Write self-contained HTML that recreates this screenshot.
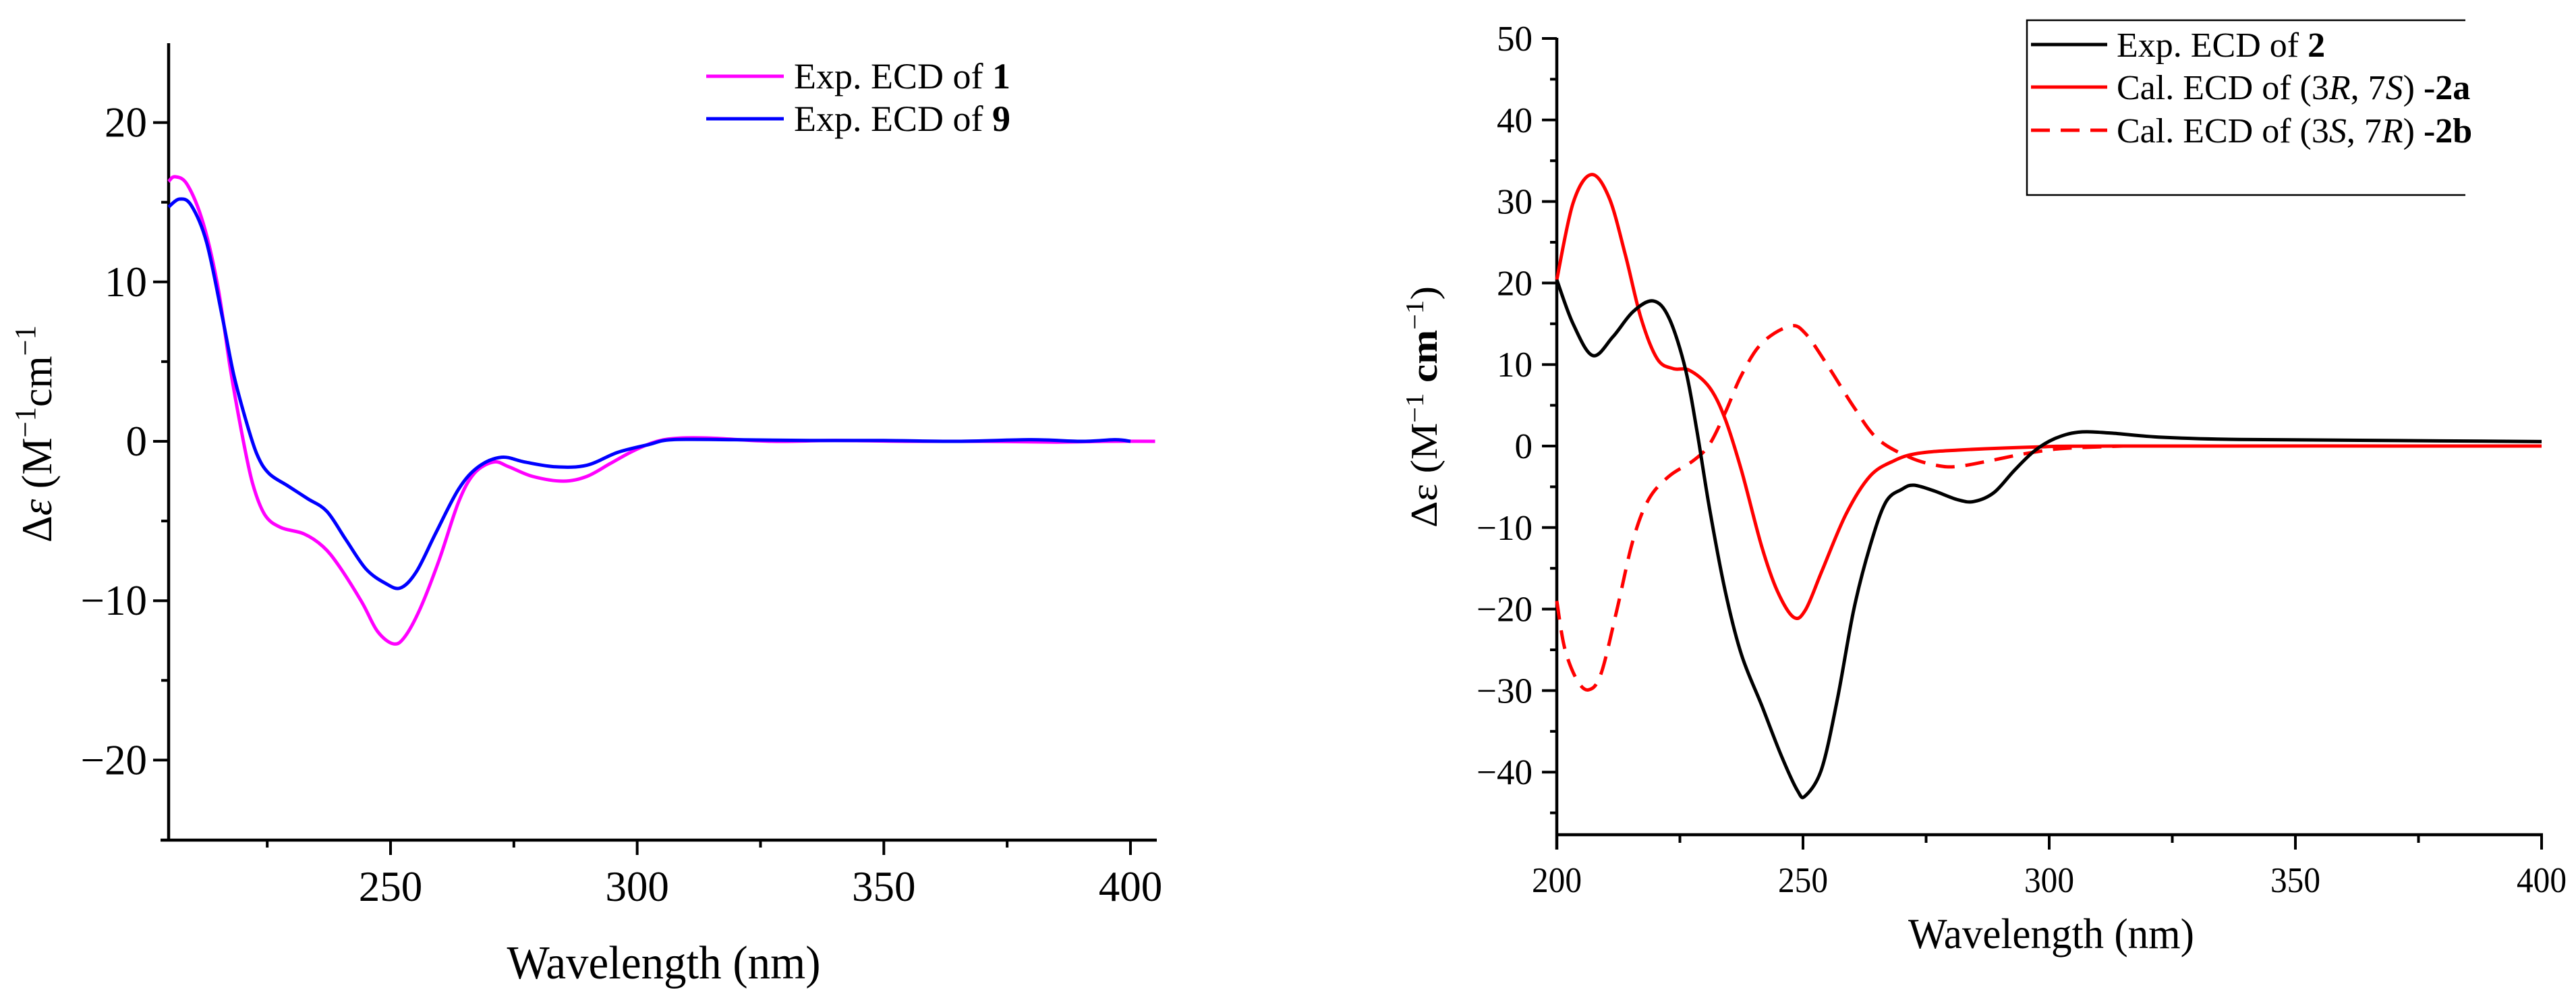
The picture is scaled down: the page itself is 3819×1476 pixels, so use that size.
<!DOCTYPE html>
<html><head><meta charset="utf-8"><style>
html,body{margin:0;padding:0;background:#fff;}
svg{display:block;font-family:"Liberation Serif",serif;}
</style></head><body>
<svg id="fig" width="3819" height="1476" viewBox="0 0 3819 1476" xmlns="http://www.w3.org/2000/svg">
<g id="left"></g>
<g id="right"></g>
</svg>
<script>
// ---- Left chart data ----
const wlL1 = [205,206.3,208.8,212,215,217.5,219.8,222,224.5,227.7,232.4,236.3,239.5,244.2,247.3,250.5,252.8,256,259.9,263.8,267,270.9,274,278.8,285,289.8,294.5,299.2,304,308.6,315,327.5,340,355,370,385,395,405];
const ecd1 = [16.3,16.6,16.1,13.7,9.7,4.6,0.6,-2.6,-4.6,-5.4,-5.8,-6.6,-7.8,-10.1,-11.9,-12.7,-12.3,-10.5,-7.4,-3.8,-2.0,-1.3,-1.6,-2.2,-2.5,-2.2,-1.4,-0.6,0,0.2,0.2,0,0.05,0,0,-0.05,0,0];
const wlL9 = [205,207.2,209.6,212.7,215.9,218.2,220.6,222.9,225.3,229.2,233.2,237.1,241,245,248.9,252,255.2,259.1,263.8,267.8,272.5,277.2,283.5,289.8,296,302.4,307.1,319.7,335,350,365,380,390,397,400];
const ecd9 = [14.7,15.2,14.8,12.5,7.8,4.2,1.4,-0.8,-2.0,-2.8,-3.6,-4.4,-6.2,-8.0,-8.9,-9.2,-8.2,-5.8,-3.0,-1.6,-1.0,-1.3,-1.6,-1.5,-0.7,-0.2,0.1,0.1,0.05,0.05,0,0.1,0,0.1,0];
const yTicksL = [-20,-10,0,10,20];
const xTicksL = [250,300,350,400];
// ---- Right chart data ----
const wlR2 = [200,203.3,207.3,211.4,215.5,219.6,222.8,226.1,228.5,231,234.2,237.5,241.6,245.6,248.9,250.5,253.8,257,260.3,263.6,266.8,270.1,272.5,276.6,281.5,284.8,288.8,292.9,297,301.1,305.9,312.5,322.2,338.5,363,400];
const ecd2 = [20.4,15,11.1,13.4,16.5,17.8,15.7,9.5,1.7,-7.6,-17.8,-25.6,-31.8,-38,-42.3,-42.9,-39.6,-31,-20.1,-12.3,-6.9,-5.3,-4.8,-5.5,-6.6,-6.8,-5.7,-3,-0.6,0.9,1.7,1.6,1.1,0.8,0.7,0.55];
const wlR2a = [200,203.3,207,210.6,213.9,217.1,220.4,223.6,226.9,231,234.2,237.5,241.6,244.8,248.1,250.5,253.8,258.7,263.6,268.5,273.3,281.5,297.8,314,400];
const ecd2a = [20.4,29.8,33.3,30.5,23.5,15.7,10.7,9.5,9.3,7.2,3.3,-3,-12.3,-17.8,-21,-20.1,-15.4,-8.4,-3.7,-1.8,-0.9,-0.5,-0.1,0,0];
const wlR2b = [200,201.6,204.1,206.5,209,212.2,215.5,218.7,222.8,227.7,231,234.2,237.5,241.6,247.3,250.5,255.4,260.3,265.1,271.7,277.4,281.5,288,294.5,301,306,315];
const ecd2b = [-19,-24.8,-28.7,-29.9,-27.9,-20.1,-11.5,-6.5,-3.7,-1.8,0.2,4.1,8.7,12.6,14.7,13.8,9.5,4.8,0.9,-1.4,-2.4,-2.5,-1.8,-1,-0.4,-0.2,0];
const yTicksR = [-40,-30,-20,-10,0,10,20,30,40,50];
const xTicksR = [200,250,300,350,400];

const NS = "http://www.w3.org/2000/svg";
function mk(parent, tag, attrs){const e=document.createElementNS(NS,tag);for(const k in attrs)e.setAttribute(k,attrs[k]);parent.appendChild(e);return e;}
function smooth(pts){let d="M"+pts[0][0].toFixed(1)+","+pts[0][1].toFixed(1);
 for(let i=0;i<pts.length-1;i++){const p0=pts[i-1]||pts[i],p1=pts[i],p2=pts[i+1],p3=pts[i+2]||p2;
  const c1x=p1[0]+(p2[0]-p0[0])/6,c1y=p1[1]+(p2[1]-p0[1])/6,c2x=p2[0]-(p3[0]-p1[0])/6,c2y=p2[1]-(p3[1]-p1[1])/6;
  d+=" C"+c1x.toFixed(1)+","+c1y.toFixed(1)+" "+c2x.toFixed(1)+","+c2y.toFixed(1)+" "+p2[0].toFixed(1)+","+p2[1].toFixed(1);}
 return d;}
const minus = v => v<0 ? "\u2212"+Math.abs(v) : ""+v;

// ===== Left chart =====
(function(){
 const g=document.getElementById('left');
 const xL=v=>579+(v-250)*7.313, yL=v=>654-v*23.62;
 const ax=250, top=64, bot=1245, right=1715;
 let e;
 e=mk(g,'line',{x1:ax,y1:top,x2:ax,y2:bot+2,stroke:'#000','stroke-width':4.5});
 
 
 e=mk(g,'line',{x1:238,y1:bot,x2:right,y2:bot,stroke:'#000','stroke-width':4.5});
 
 
 for(let v=-25;v<=25;v+=5){const major=yTicksL.includes(v);if(v===25||v===-25)continue;
  e=mk(g,'line',{x1:ax-(major?23:11),y1:yL(v),x2:ax,y2:yL(v),stroke:'#000','stroke-width':4});
  
  }
 yTicksL.forEach(v=>{e=mk(g,'text',{x:218,y:yL(v)+21,'text-anchor':'end','font-size':63});e.textContent=minus(v);
  
  });
 for(let v=225;v<=400;v+=25){const major=xTicksL.includes(v);
  e=mk(g,'line',{x1:xL(v),y1:bot,x2:xL(v),y2:bot+(major?22:11),stroke:'#000','stroke-width':4});
  
  }
 xTicksL.forEach(v=>{e=mk(g,'text',{x:xL(v),y:1335,'text-anchor':'middle','font-size':63});e.textContent=v;
  
  });
 e=mk(g,'text',{x:984,y:1450,'text-anchor':'middle','font-size':70,textLength:465,lengthAdjust:'spacingAndGlyphs'});e.textContent='Wavelength (nm)';
 
 
 e=mk(g,'text',{x:0,y:0,'text-anchor':'middle','font-size':64,transform:'translate(76,643) rotate(-90)',textLength:322,lengthAdjust:'spacingAndGlyphs'});
 e.innerHTML='Δ<tspan font-style="italic">ε</tspan> (M<tspan dy="-24" font-size="44">−1</tspan><tspan dy="24">cm</tspan><tspan dy="-24" font-size="44">−1</tspan>';
 
 
 e=mk(g,'path',{d:smooth(wlL1.map((w,i)=>[xL(w),yL(ecd1[i])])),fill:'none',stroke:'#ff00ff','stroke-width':5});
 
 
 e=mk(g,'path',{d:smooth(wlL9.map((w,i)=>[xL(w),yL(ecd9[i])])),fill:'none',stroke:'#0000ff','stroke-width':5});
 
 
 const leg=[['#ff00ff','1',113],['#0000ff','9',176]];
 leg.forEach(([c,n,y])=>{
  e=mk(g,'line',{x1:1047,y1:y,x2:1162,y2:y,stroke:c,'stroke-width':5});
  
  
  e=mk(g,'text',{x:1177,y:y+18,'font-size':54});
  e.innerHTML='Exp. ECD of  <tspan font-weight="bold">'+n+'</tspan>';
  
  });
})();

// ===== Right chart =====
(function(){
 const g=document.getElementById('right');
 const xR=v=>2308+(v-200)*7.3, yR=v=>661-v*12.08;
 const ax=2308, top=56, bot=1237;
 let e;
 e=mk(g,'line',{x1:ax,y1:top,x2:ax,y2:bot+22,stroke:'#000','stroke-width':4.5});
 
 
 e=mk(g,'line',{x1:ax,y1:bot,x2:3770,y2:bot,stroke:'#000','stroke-width':4.5});
 
 
 for(let v=-45;v<=50;v+=5){const major=yTicksR.includes(v);
  e=mk(g,'line',{x1:ax-(major?22:10),y1:yR(v),x2:ax,y2:yR(v),stroke:'#000','stroke-width':4});
  
  }
 yTicksR.forEach(v=>{e=mk(g,'text',{x:2272,y:yR(v)+18,'text-anchor':'end','font-size':53});e.textContent=minus(v);
  
  });
 for(let v=200;v<=400;v+=25){const major=xTicksR.includes(v);
  e=mk(g,'line',{x1:xR(v),y1:bot,x2:xR(v),y2:bot+(major?22:12),stroke:'#000','stroke-width':4});
  
  }
 xTicksR.forEach(v=>{e=mk(g,'text',{x:xR(v),y:1322,'text-anchor':'middle','font-size':53,textLength:74,lengthAdjust:'spacingAndGlyphs'});e.textContent=v;
  
  });
 e=mk(g,'text',{x:3041,y:1405,'text-anchor':'middle','font-size':64,textLength:424,lengthAdjust:'spacingAndGlyphs'});e.textContent='Wavelength (nm)';
 
 
 e=mk(g,'text',{x:0,y:0,'text-anchor':'middle','font-size':56,transform:'translate(2130,603) rotate(-90)',textLength:358,lengthAdjust:'spacingAndGlyphs'});
 e.innerHTML='Δε (M<tspan dy="-20" font-size="38">−1</tspan><tspan dy="20" font-weight="bold"> cm</tspan><tspan dy="-20" font-size="38">−1</tspan><tspan dy="20">)</tspan>';
 
 
 e=mk(g,'path',{d:smooth(wlR2b.map((w,i)=>[xR(w),yR(ecd2b[i])])),fill:'none',stroke:'#ff0000','stroke-width':5,'stroke-dasharray':'28,16'});
 
 
 e=mk(g,'path',{d:smooth(wlR2a.map((w,i)=>[xR(w),yR(ecd2a[i])])),fill:'none',stroke:'#ff0000','stroke-width':5});
 
 
 e=mk(g,'path',{d:smooth(wlR2.map((w,i)=>[xR(w),yR(ecd2[i])])),fill:'none',stroke:'#000','stroke-width':5});
 
 
 e=mk(g,'path',{d:'M3655,30 L3005,30 L3005,289 L3655,289',fill:'none',stroke:'#000','stroke-width':2.5});
 
 
 const leg=[['#000','',66,'Exp. ECD of  <tspan font-weight="bold">2</tspan>'],
  ['#ff0000','',129,'Cal. ECD of (3<tspan font-style="italic">R</tspan>, 7<tspan font-style="italic">S</tspan>) <tspan font-weight="bold">-2a</tspan>'],
  ['#ff0000','28,16',193,'Cal. ECD of (3<tspan font-style="italic">S</tspan>, 7<tspan font-style="italic">R</tspan>) <tspan font-weight="bold">-2b</tspan>']];
 leg.forEach(([c,da,y,t])=>{
  const a={x1:3011,y1:y,x2:3124,y2:y,stroke:c,'stroke-width':5};if(da)a['stroke-dasharray']=da;
  e=mk(g,'line',a);
  
  
  e=mk(g,'text',{x:3138,y:y+18,'font-size':52});
  e.innerHTML=t;
  
  });
})();
</script>
</body></html>
